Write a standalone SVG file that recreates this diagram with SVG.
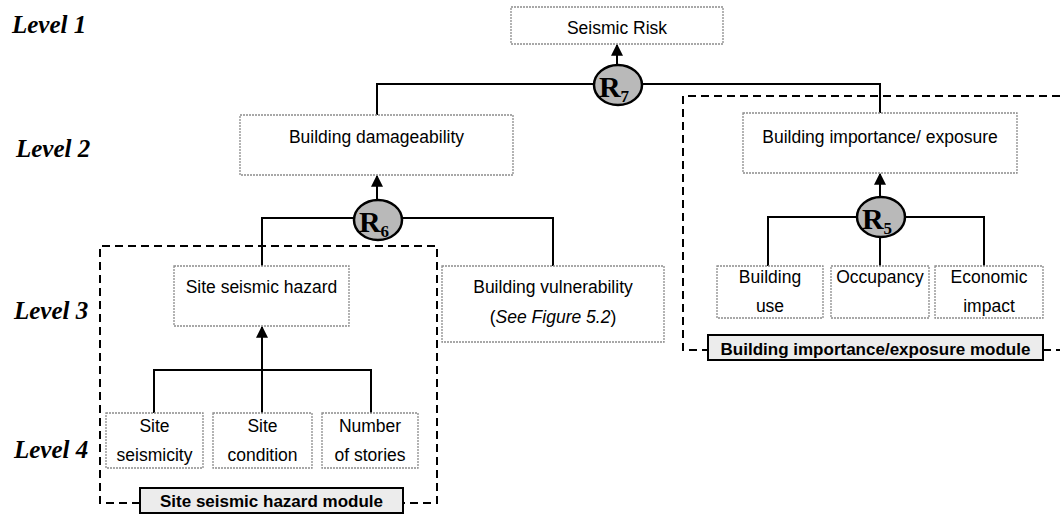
<svg xmlns="http://www.w3.org/2000/svg" width="1060" height="519" viewBox="0 0 1060 519">
  <defs>
    <style>
      .box { fill: #ffffff; stroke: #8c8c8c; stroke-width: 1.3; stroke-dasharray: 2 1; }
      .t { font-family: "Liberation Sans", Arial, sans-serif; font-size: 17.5px; fill: #000; text-anchor: middle; }
      .lvl { font-family: "Liberation Serif", "Times New Roman", serif; font-size: 25px; font-weight: bold; font-style: italic; fill: #000; }
      .line { fill: none; stroke: #000; stroke-width: 2; }
      .dash { fill: none; stroke: #000; stroke-width: 2; stroke-dasharray: 8 5; }
      .op { fill: #b9b9b9; stroke: #000; stroke-width: 2.5; }
      .opt { font-family: "Liberation Serif", "Times New Roman", serif; font-weight: bold; font-size: 30px; fill: #000; text-anchor: middle; }
      .sub { font-size: 17px; }
      .mod { fill: #ececec; stroke: #000; stroke-width: 2; }
      .modt { font-family: "Liberation Sans", Arial, sans-serif; font-size: 17px; font-weight: bold; fill: #000; text-anchor: middle; }
    </style>
    <marker id="arr" viewBox="0 0 10 10" refX="9" refY="5" markerWidth="6" markerHeight="6" orient="auto" markerUnits="strokeWidth">
      <path d="M0,0 L10,5 L0,10 z" fill="#000"/>
    </marker>
  </defs>
  <rect width="1060" height="519" fill="#fff"/>

  <!-- Level labels -->
  <g id="levels">
    <text class="lvl" x="12" y="33">Level 1</text>
    <text class="lvl" x="16" y="157">Level 2</text>
    <text class="lvl" x="14" y="319">Level 3</text>
    <text class="lvl" x="14" y="458">Level 4</text>
  </g>

  <!-- Module boundaries -->
  <g id="module-site">
    <path class="dash" d="M140,503 L100,503 L100,246 L437,246 L437,503 L403,503"/>
    <rect class="mod" x="140" y="488" width="263" height="25"/>
    <text class="modt" x="271.5" y="507">Site seismic hazard module</text>
  </g>
  <g id="module-importance">
    <path class="dash" d="M1060,96 L683,96 L683,350 L708,350"/>
    <path class="dash" d="M1043,350 L1060,350"/>
    <rect class="mod" x="708" y="335" width="335" height="25"/>
    <text class="modt" x="875.5" y="355">Building importance/exposure module</text>
  </g>

  <!-- Connectors -->
  <g id="connectors">
    <!-- R7 -->
    <path class="line" d="M377,115 L377,84 L880,84 L880,113"/>
    <line class="line" x1="617" y1="65" x2="617" y2="45" marker-end="url(#arr)"/>
    <!-- R6 -->
    <path class="line" d="M262,266 L262,218 L553,218 L553,266"/>
    <line class="line" x1="377" y1="200" x2="377" y2="176" marker-end="url(#arr)"/>
    <!-- R5 -->
    <path class="line" d="M768,266 L768,217 L984,217 L984,266"/>
    <line class="line" x1="880" y1="238" x2="880" y2="266"/>
    <line class="line" x1="880" y1="197" x2="880" y2="174" marker-end="url(#arr)"/>
    <!-- Level 4 to site seismic hazard -->
    <path class="line" d="M154,413 L154,370 L371,370 L371,413"/>
    <line class="line" x1="262" y1="413" x2="262" y2="327" marker-end="url(#arr)"/>
  </g>

  <!-- Nodes -->
  <g id="seismic-risk">
    <rect class="box" x="511" y="7" width="212" height="37"/>
    <text class="t" x="617" y="34">Seismic Risk</text>
  </g>
  <g id="R7">
    <ellipse class="op" cx="618" cy="85" rx="24" ry="20"/>
    <text class="opt" x="614" y="97">R<tspan class="sub" dy="5">7</tspan></text>
  </g>
  <g id="building-damageability">
    <rect class="box" x="240" y="115" width="273" height="60"/>
    <text class="t" x="376.5" y="143">Building damageability</text>
  </g>
  <g id="building-importance">
    <rect class="box" x="743" y="113" width="274" height="60"/>
    <text class="t" x="880" y="143">Building importance/ exposure</text>
  </g>
  <g id="R6">
    <ellipse class="op" cx="378" cy="220" rx="24" ry="20"/>
    <text class="opt" x="374" y="232">R<tspan class="sub" dy="5">6</tspan></text>
  </g>
  <g id="R5">
    <ellipse class="op" cx="881" cy="217" rx="24" ry="20"/>
    <text class="opt" x="877" y="229">R<tspan class="sub" dy="5">5</tspan></text>
  </g>
  <g id="site-seismic-hazard">
    <rect class="box" x="174" y="266" width="175" height="60"/>
    <text class="t" x="261.5" y="293">Site seismic hazard</text>
  </g>
  <g id="building-vulnerability">
    <rect class="box" x="442" y="266" width="222" height="76"/>
    <text class="t" x="553" y="293">Building vulnerability</text>
    <text class="t" x="553" y="323">(<tspan font-style="italic">See Figure 5.2</tspan>)</text>
  </g>
  <g id="building-use">
    <rect class="box" x="717" y="266" width="106" height="52"/>
    <text class="t" x="770" y="283">Building</text>
    <text class="t" x="770" y="312">use</text>
  </g>
  <g id="occupancy">
    <rect class="box" x="831" y="266" width="98" height="52"/>
    <text class="t" x="880" y="283">Occupancy</text>
  </g>
  <g id="economic-impact">
    <rect class="box" x="935" y="266" width="108" height="52"/>
    <text class="t" x="989" y="283">Economic</text>
    <text class="t" x="989" y="312">impact</text>
  </g>
  <g id="site-seismicity">
    <rect class="box" x="106" y="413" width="97" height="55"/>
    <text class="t" x="154.5" y="432">Site</text>
    <text class="t" x="154.5" y="461">seismicity</text>
  </g>
  <g id="site-condition">
    <rect class="box" x="213" y="413" width="99" height="55"/>
    <text class="t" x="262.5" y="432">Site</text>
    <text class="t" x="262.5" y="461">condition</text>
  </g>
  <g id="number-of-stories">
    <rect class="box" x="322" y="413" width="96" height="55"/>
    <text class="t" x="370" y="432">Number</text>
    <text class="t" x="370" y="461">of stories</text>
  </g>
</svg>
